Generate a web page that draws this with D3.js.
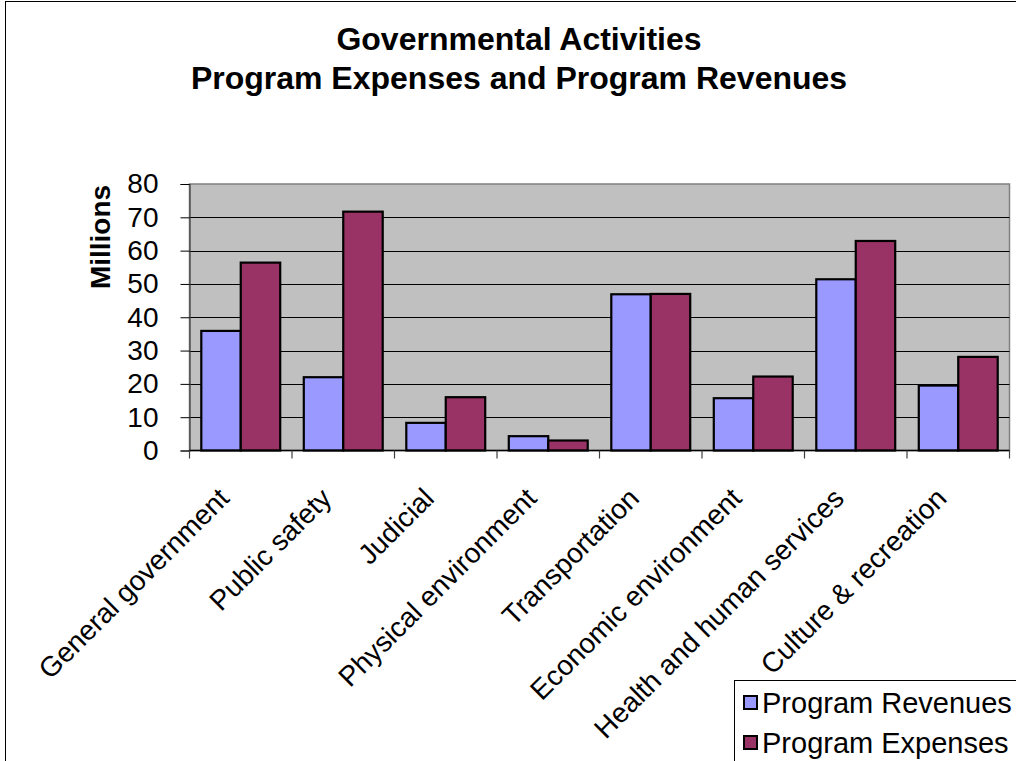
<!DOCTYPE html>
<html>
<head>
<meta charset="utf-8">
<script src="https://cdn.jsdelivr.net/npm/d3@7"></script>
<style>
  html, body { margin: 0; padding: 0; background: #fff; }
  svg { display: block; font-family: "Liberation Sans", Arial, sans-serif; }
</style>
</head>
<body>
<svg id="chart" width="1016" height="761"></svg>
<script>
// Chart data
const categories = [
  "General government", "Public safety", "Judicial", "Physical environment",
  "Transportation", "Economic environment", "Health and human services", "Culture & recreation"
];
const seriesNames = ["Program Revenues", "Program Expenses"];
const programRevenues = [35.9, 22.0, 8.3, 4.3, 46.9, 15.7, 51.4, 19.5];
const programExpenses = [56.4, 71.7, 16.0, 3.0, 47.0, 22.2, 62.9, 28.1];
const seriesColors = ["#9999FF", "#993366"];
const yTicks = [0, 10, 20, 30, 40, 50, 60, 70, 80];
const titleLines = ["Governmental Activities", "Program Expenses and Program Revenues"];

const svg = d3.select("#chart");

// Outer chart frame
svg.append("rect")
  .attr("x", 5.5).attr("y", 1.5)
  .attr("width", 1030).attr("height", 780)
  .attr("fill", "#fff").attr("stroke", "#000").attr("stroke-width", 1);

// Plot area
const plot = { left: 189.5, right: 1009.5, top: 184, bottom: 450.5 };

const x0 = d3.scaleBand()
  .domain(categories)
  .range([plot.left, plot.right])
  .paddingInner(0.23)
  .paddingOuter(0.115);

const x1 = d3.scaleBand()
  .domain(seriesNames)
  .range([0, x0.bandwidth()]);

const y = d3.scaleLinear()
  .domain([0, 80])
  .range([plot.bottom, plot.top]);

// Plot background
svg.append("rect")
  .attr("x", plot.left).attr("y", plot.top)
  .attr("width", plot.right - plot.left).attr("height", plot.bottom - plot.top)
  .attr("fill", "#C0C0C0").attr("stroke", "#808080").attr("stroke-width", 1.5);

// Gridlines
svg.append("g")
  .selectAll("line")
  .data(yTicks.filter(d => d > 0 && d < 80))
  .join("line")
  .attr("x1", plot.left).attr("x2", plot.right)
  .attr("y1", d => Math.round(y(d)) + 0.5).attr("y2", d => Math.round(y(d)) + 0.5)
  .attr("stroke", "#000").attr("stroke-width", 1);

// Bars
const rows = categories.map((c, i) => ({
  category: c,
  values: [programRevenues[i], programExpenses[i]]
}));

svg.append("g")
  .selectAll("g")
  .data(rows)
  .join("g")
  .attr("transform", d => `translate(${x0(d.category)},0)`)
  .selectAll("rect")
  .data(d => d.values.map((v, k) => ({ key: seriesNames[k], value: v, k })))
  .join("rect")
  .attr("x", d => x1(d.key))
  .attr("y", d => y(d.value))
  .attr("width", x1.bandwidth())
  .attr("height", d => y(0) - y(d.value))
  .attr("fill", d => seriesColors[d.k])
  .attr("stroke", "#000")
  .attr("stroke-width", 2.2);

// Y axis
const yAxis = svg.append("g")
  .attr("transform", `translate(${plot.left},0)`)
  .call(d3.axisLeft(y).tickValues(yTicks).tickSize(9).tickPadding(22));
yAxis.select(".domain").attr("stroke", "#404040").attr("stroke-width", 1.2);
yAxis.selectAll(".tick line").attr("stroke", "#000");
yAxis.selectAll("text")
  .attr("font-size", 28).attr("fill", "#000")
  .attr("font-family", "Liberation Sans, Arial, sans-serif");

// X axis (ticks between categories)
const tickPositions = categories.map(c => x0(c) - x0.step() * x0.paddingInner() / 2)
  .concat([plot.right]);
svg.append("line")
  .attr("x1", plot.left).attr("x2", plot.right)
  .attr("y1", plot.bottom).attr("y2", plot.bottom)
  .attr("stroke", "#000").attr("stroke-width", 1.5);
svg.append("g")
  .selectAll("line")
  .data(tickPositions)
  .join("line")
  .attr("x1", d => d).attr("x2", d => d)
  .attr("y1", plot.bottom).attr("y2", plot.bottom + 8)
  .attr("stroke", "#404040").attr("stroke-width", 1.2);

// Category labels, rotated
svg.append("g")
  .selectAll("text")
  .data(categories)
  .join("text")
  .attr("transform", d => `translate(${x0(d) + x0.bandwidth() / 2 - 10},500) rotate(-45)`)
  .attr("text-anchor", "end")
  .attr("font-size", 28)
  .attr("fill", "#000")
  .text(d => d);

// Y axis title
svg.append("text")
  .attr("transform", `translate(110,237) rotate(-90)`)
  .attr("text-anchor", "middle")
  .attr("font-size", 28)
  .attr("font-weight", "bold")
  .text("Millions");

// Chart title
svg.append("g")
  .selectAll("text")
  .data(titleLines)
  .join("text")
  .attr("x", 519)
  .attr("y", (d, i) => 50 + i * 39)
  .attr("text-anchor", "middle")
  .attr("font-size", 32)
  .attr("font-weight", "bold")
  .text(d => d);

// Legend
const legend = svg.append("g");
legend.append("rect")
  .attr("x", 734.5).attr("y", 680.5)
  .attr("width", 320).attr("height", 120)
  .attr("fill", "#fff").attr("stroke", "#000").attr("stroke-width", 1);
const items = legend.selectAll("g.item")
  .data(seriesNames)
  .join("g")
  .attr("class", "item")
  .attr("transform", (d, i) => `translate(744,${696 + i * 40})`);
items.append("rect")
  .attr("width", 13).attr("height", 13)
  .attr("fill", (d, i) => seriesColors[i])
  .attr("stroke", "#000").attr("stroke-width", 2);
items.append("text")
  .attr("x", 18).attr("y", 17)
  .attr("font-size", 29)
  .text(d => d);
</script>
</body>
</html>
